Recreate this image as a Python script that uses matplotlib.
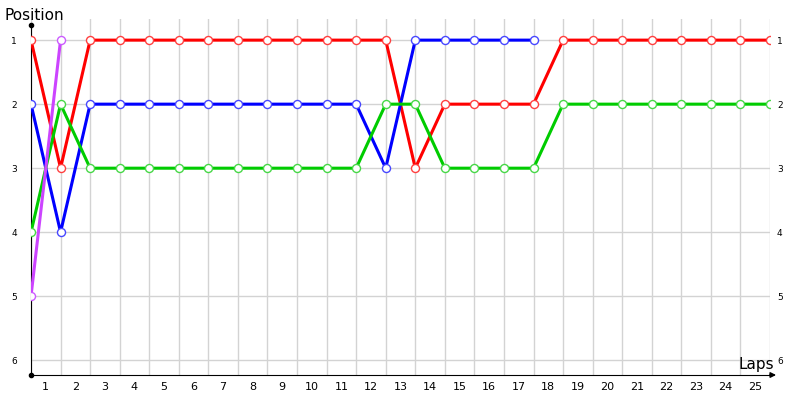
import matplotlib.pyplot as plt
import numpy as np

laps_red = list(range(0, 26))
pos_red = [1, 3, 1, 1, 1, 1, 1, 1, 1, 1, 1, 1, 1, 3, 2, 2, 2, 2, 1, 1, 1, 1, 1, 1, 1, 1]
laps_blue = list(range(0, 18))
pos_blue = [2, 4, 2, 2, 2, 2, 2, 2, 2, 2, 2, 2, 3, 1, 1, 1, 1, 1]
laps_green = list(range(0, 26))
pos_green = [4, 2, 3, 3, 3, 3, 3, 3, 3, 3, 3, 3, 2, 2, 3, 3, 3, 3, 2, 2, 2, 2, 2, 2, 2, 2]
laps_purple = [0, 1]
pos_purple = [5, 1]

series = [
    (laps_red, pos_red, '#ff0000', '#ff4040'),
    (laps_blue, pos_blue, '#0000ff', '#4848ff'),
    (laps_green, pos_green, '#00cc00', '#48d848'),
    (laps_purple, pos_purple, '#cc44ff', '#cc5cff'),
]
lap_labels = [str(i) for i in range(1, 26)]
positions = [1, 2, 3, 4, 5, 6]

fig = plt.figure(figsize=(8, 4), dpi=100)
ax = fig.add_axes([31 / 800, 25 / 400, 739 / 800, 356 / 400])

ax.set_xlim(0, 25)
ax.set_ylim(6.23, 0.67)

# grid
for k in range(0, 26):
    ax.axvline(k, color='#d3d3d3', lw=1, zorder=0)
for p in positions:
    ax.axhline(p, color='#d3d3d3', lw=1, zorder=0)

for xs, ys, col, mcol in series:
    ax.plot(xs, ys, color=col, lw=2.2, zorder=2, solid_capstyle='round')
    ax.plot(xs, ys, ls='none', marker='o', ms=5.8, mfc='white', mec=mcol,
            mew=1.0, zorder=3)

for s in ['top', 'right']:
    ax.spines[s].set_visible(False)
ax.spines['left'].set_bounds(6.23, 0.77)
ax.spines['left'].set_zorder(1)
ax.spines['bottom'].set_zorder(1)

ax.plot([0, 0], [0.77, 6.23], ls='none', marker='o', ms=3, color='black', clip_on=False, zorder=4)
ax.annotate('', xy=(25.3, 6.23), xytext=(24.9, 6.23),
            arrowprops=dict(arrowstyle='-|>', color='black', lw=1, mutation_scale=8),
            annotation_clip=False)

ax.set_xticks(np.arange(0.5, 25.5, 1))
ax.set_xticklabels(lap_labels, fontsize=8)
ax.tick_params(axis='x', length=0, pad=5)
ax.set_yticks(positions)
ax.set_yticklabels([str(p) for p in positions], fontsize=6.5)
ax.tick_params(axis='y', length=0, pad=10)

# right-hand position labels
ax2 = ax.twinx()
ax2.set_ylim(ax.get_ylim())
ax2.set_yticks(positions)
ax2.set_yticklabels([str(p) for p in positions], fontsize=6.5)
ax2.tick_params(axis='y', length=0, pad=5)
for s in ax2.spines.values():
    s.set_visible(False)

fig.text(4 / 800, 1 - 16 / 400, 'Position', fontsize=11, va='center', ha='left')
fig.text(774 / 800, 1 - 364 / 400, 'Laps', fontsize=11, va='center', ha='right')

fig.savefig('out.png', dpi=100)
